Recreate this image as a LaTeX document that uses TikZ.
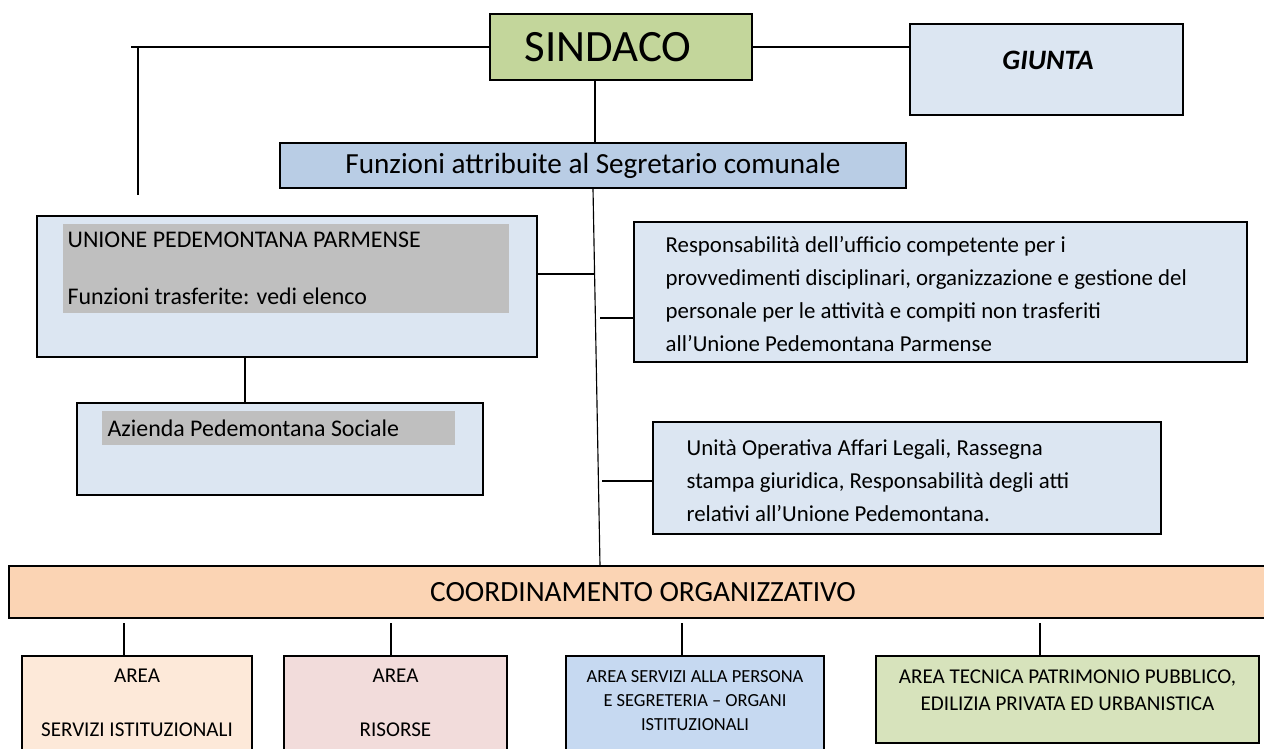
\documentclass[tikz,border=0pt]{standalone}
\usepackage{fontspec}
\setmainfont{Carlito}
\definecolor{sindacogreen}{HTML}{C3D69B}
\definecolor{paleblue}{HTML}{DCE6F2}
\definecolor{segblue}{HTML}{B9CDE5}
\definecolor{hlgray}{HTML}{BFBFBF}
\definecolor{coordorange}{HTML}{FBD4B4}
\definecolor{areapeach}{HTML}{FDE9D9}
\definecolor{arearose}{HTML}{F2DCDB}
\definecolor{areablue}{HTML}{C6D9F1}
\definecolor{areagreen}{HTML}{D7E3BC}

\begin{document}
\begin{tikzpicture}[x=0.02cm, y=-0.02cm, line width=0.75pt,
    box/.style={draw, line width=0.9pt, inner sep=0pt},
    hl/.style={fill=hlgray, inner sep=0pt},
    txt/.style={inner sep=0pt, align=left, font=\fontsize{13}{18.8}\selectfont},
    areatxt/.style={inner sep=0pt, align=center}]
    \useasboundingbox (0,0) rectangle (1264,749);

    \node [box, fill=sindacogreen, minimum width=5.24cm, minimum height=1.32cm] (sindaco) at (621,47) {};
    \node [inner sep=0pt, font=\fontsize{25.5}{30}\selectfont] (sindacotxt) at (608,47) {SINDACO};
    \node [box, fill=paleblue, minimum width=5.46cm, minimum height=1.82cm] (giunta) at (1046.5,69.5) {};
    \node [inner sep=0pt, font=\fontsize{16}{19}\selectfont\bfseries\itshape] (giuntatxt) at (1048,60) {GIUNTA};
    \node [box, fill=segblue, minimum width=12.52cm, minimum height=0.9cm,
        font=\fontsize{16.6}{20}\selectfont] (funz) at (593,165.5) {Funzioni attribuite al Segretario comunale};

    \node [box, fill=paleblue, minimum width=10cm, minimum height=2.82cm] (unione) at (287,286.5) {};
    \node [hl, minimum width=8.92cm, minimum height=1.78cm] (unionehl) at (286,268.5) {};
    \node [txt, anchor=west, font=\fontsize{13.6}{18.8}\selectfont] (unione1) at (67,240) {UNIONE PEDEMONTANA PARMENSE};
    \node [txt, anchor=west, font=\fontsize{13.6}{18.8}\selectfont] (unione2) at (67,296) {Funzioni trasferite: vedi elenco};

    \node [box, fill=paleblue, minimum width=8.12cm, minimum height=1.84cm] (aps) at (280,449) {};
    \node [hl, minimum width=7.06cm, minimum height=0.68cm] (apshl) at (278.5,428) {};
    \node [txt, anchor=west, font=\fontsize{13.6}{18.8}\selectfont] (apstxt) at (107,428) {Azienda Pedemontana Sociale};

    \node [box, fill=paleblue, minimum width=12.26cm, minimum height=2.8cm] (resp) at (940.5,292) {};
    \node [txt, anchor=west] (resptxt) at (665,294) {Responsabilità dell’ufficio competente per i\\
        provvedimenti disciplinari, organizzazione e gestione del\\
        personale per le attività e compiti non trasferiti\\
        all’Unione Pedemontana Parmense};

    \node [box, fill=paleblue, minimum width=10.16cm, minimum height=2.24cm] (legal) at (907,478) {};
    \node [txt, anchor=west] (legaltxt) at (686,481) {Unità Operativa Affari Legali, Rassegna\\
        stampa giuridica, Responsabilità degli atti\\
        relativi all’Unione Pedemontana.};

    \node [box, fill=coordorange, minimum width=25.2cm, minimum height=1.04cm] (coord) at (639,592) {};
    \node [inner sep=0pt, font=\fontsize{16.7}{20}\selectfont] (coordtxt) at (643,592) {COORDINAMENTO ORGANIZZATIVO};

    \node [box, fill=areapeach, minimum width=4.6cm, minimum height=2.08cm] (area1) at (137,708) {};
    \node [box, fill=arearose, minimum width=4.46cm, minimum height=2.08cm] (area2) at (395.5,708) {};
    \node [box, fill=areablue, minimum width=5.16cm, minimum height=2.08cm] (area3) at (695,708) {};
    \node [box, fill=areagreen, minimum width=7.66cm, minimum height=1.74cm] (area4) at (1067.5,699.5) {};
    \node [areatxt, font=\fontsize{12}{30.7}\selectfont] (area1txt) at (137,703) {AREA\\SERVIZI ISTITUZIONALI};
    \node [areatxt, font=\fontsize{12}{30.7}\selectfont] (area2txt) at (395.5,703) {AREA\\RISORSE};
    \node [areatxt, font=\fontsize{10.5}{13.7}\selectfont] (area3txt) at (695,701) {AREA SERVIZI ALLA PERSONA\\E SEGRETERIA – ORGANI\\ISTITUZIONALI};
    \node [areatxt, font=\fontsize{12}{15.4}\selectfont] (area4txt) at (1067.5,690.5) {AREA TECNICA PATRIMONIO PUBBLICO,\\EDILIZIA PRIVATA ED URBANISTICA};

    \coordinate (lover) at (131,0);
    \coordinate (lend) at (138,195);
    \coordinate (vbot) at (600,566);
    \coordinate (uj) at (595,274);
    \coordinate (rj) at (600,318);
    \coordinate (lj) at (602,481);
    \coordinate (ua) at (245,0);

    \draw (sindaco.west) -- (sindaco.west -| lover);
    \draw (lend |- sindaco.west) -- (lend);
    \draw (sindaco.east) -- (sindaco.east -| giunta.west);
    \draw (funz.north -| 595,0) -- (sindaco.south -| 595,0);
    \draw [line width=0.65pt] (funz.south) -- (vbot);
    \draw [line width=1.4pt] (uj) -- (uj -| unione.east);
    \draw (rj) -- (rj -| resp.west);
    \draw [line width=1.2pt] (lj) -- (lj -| legal.west);
    \draw (ua |- unione.south) -- (ua |- aps.north);

    \foreach \a/\s in {area1/-13, area2/-4.5, area3/-13, area4/-27.5}
        \draw ([xshift=\s*0.02cm]\a.north) -- ([xshift=\s*0.02cm,yshift=-0.08cm]\a.north |- coord.south);
\end{tikzpicture}
\end{document}
